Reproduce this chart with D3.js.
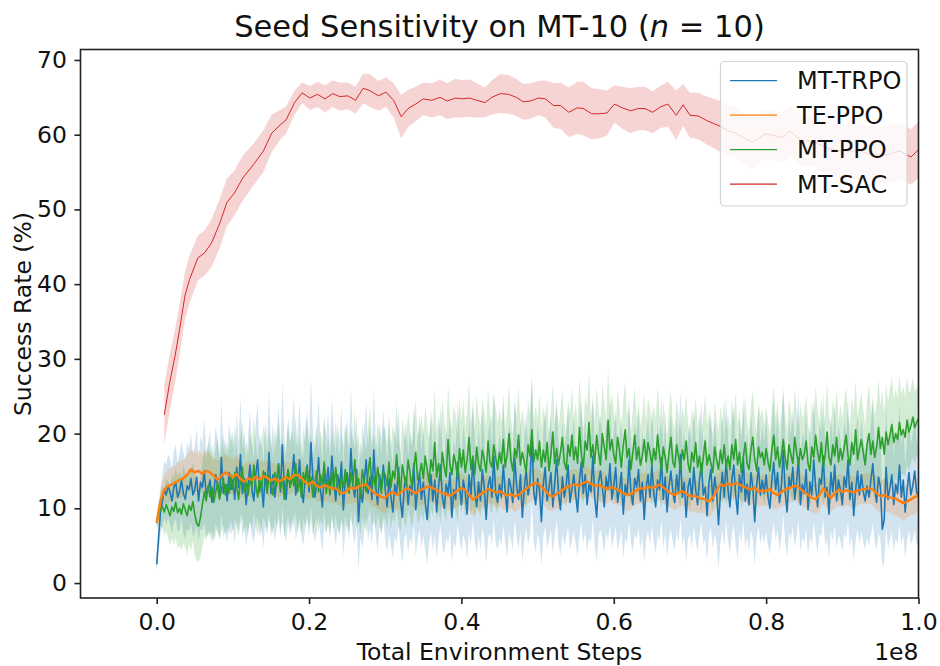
<!DOCTYPE html>
<html><head><meta charset="utf-8">
<script src="https://cdn.jsdelivr.net/npm/d3@7"></script>
<style>body{margin:0;background:#fff}</style>
</head><body><svg id="c" width="940" height="666"></svg>
<script>
// ---- data (x in units of 1e8 environment steps, y in % success) ----
const xTicks = [0.0, 0.2, 0.4, 0.6, 0.8, 1.0];
const yTicks = [0, 10, 20, 30, 40, 50, 60, 70];
const seriesNames = ["MT-TRPO", "TE-PPO", "MT-PPO", "MT-SAC"];
const seriesColors = ["#1f77b4", "#ff7f0e", "#2ca02c", "#d62728"];

// logging grids of the on-policy runs
const fineSteps = d3.range(401).map(i => i * 0.0025);   // MT-TRPO, MT-PPO
const gridSteps = d3.range(201).map(i => i * 0.005);    // TE-PPO

const trpoMean = [
2.5,6.0,9.5,11.0,12.5,11.8,13.0,12.2,11.0,12.8,13.5,11.5,12.2,13.8,12.0,11.2,13.0,12.5,14.0,11.8,
12.5,14.2,11.0,13.5,12.8,15.0,11.8,12.5,13.8,10.8,12.2,14.5,13.0,11.5,16.8,12.0,13.2,11.0,14.8,12.5,
13.8,11.2,15.5,12.8,17.2,12.0,14.0,10.5,13.2,15.8,12.5,11.0,14.5,16.5,12.2,13.5,10.2,14.8,12.8,17.5,
12.0,14.5,11.5,13.8,16.0,12.2,18.5,13.0,11.2,15.2,12.8,14.0,17.2,11.8,13.5,16.5,12.5,10.8,14.2,15.8,
12.2,18.8,14.0,11.5,13.2,16.8,12.5,10.2,14.8,13.0,15.5,12.0,17.0,13.8,11.0,14.5,12.8,16.2,9.8,13.5,
14.8,12.2,18.0,13.0,11.5,15.2,8.2,12.5,10.8,13.8,16.5,12.0,14.2,11.2,17.8,13.0,10.5,14.5,12.8,15.8,
12.5,10.2,14.0,11.5,9.5,13.2,12.0,15.5,11.0,8.8,12.8,14.2,10.5,13.0,11.8,16.0,9.8,12.5,14.8,11.2,
13.5,10.8,8.5,12.2,14.5,11.0,13.8,9.5,12.8,15.8,11.5,10.0,13.2,12.0,14.8,8.8,12.5,11.2,16.2,12.8,
10.5,13.8,12.2,9.2,14.5,11.8,16.5,12.5,10.2,13.5,11.0,15.2,12.8,8.5,13.0,14.2,11.5,17.0,12.0,10.8,
13.2,11.5,15.8,12.2,9.5,14.0,12.8,10.8,16.8,13.0,11.2,14.5,8.8,12.5,15.2,11.8,13.5,19.5,12.2,10.5,
14.0,12.5,8.2,13.2,15.5,11.0,12.8,14.8,10.2,13.5,16.5,12.0,9.8,14.2,11.5,13.0,15.8,10.8,12.5,14.5,
11.8,9.5,13.8,16.2,12.0,14.5,10.5,13.2,12.2,17.0,11.5,8.8,13.5,15.0,12.8,10.2,14.2,12.5,16.0,11.2,
13.0,15.5,10.8,12.5,14.8,9.2,13.2,11.8,16.5,12.2,10.5,14.0,12.8,15.2,11.0,13.5,8.5,12.8,14.5,11.5,
15.8,12.0,10.2,13.8,12.5,16.8,11.2,14.2,9.5,13.0,15.0,12.2,10.8,14.5,12.0,17.2,11.5,13.5,8.8,12.8,
14.0,11.2,15.5,12.5,10.5,13.8,16.0,11.8,12.8,9.0,13.5,15.2,11.0,14.2,12.2,7.8,12.0,14.8,11.5,16.5,
12.5,10.2,13.8,15.8,11.8,9.2,14.5,12.2,16.8,11.0,13.2,10.5,14.8,12.8,8.2,13.0,15.5,11.8,13.8,12.0,
14.5,11.5,10.0,13.8,16.2,12.5,14.8,10.8,13.0,17.8,12.2,9.5,14.2,12.8,15.5,11.2,13.5,16.8,10.5,13.2,
12.0,15.2,9.8,13.5,11.8,16.5,12.8,10.2,14.0,13.2,17.0,11.5,12.8,9.2,14.8,12.2,15.8,11.0,13.8,12.5,
10.5,14.2,12.8,16.5,11.2,13.5,9.0,12.5,15.0,11.8,14.5,12.2,11.0,13.0,11.5,13.8,16.0,12.5,10.8,14.2,
12.8,7.2,8.5,15.5,11.2,12.8,14.5,10.5,13.2,12.0,15.8,11.5,13.8,9.5,12.5,14.8,11.8,13.0,15.0,12.2,
11.5];
const trpoStd = [
1.0,2.0,3.0,3.5,3.8,4.0,4.2,4.5,4.3,4.8,5.0,4.6,5.2,5.0,5.5,5.2,5.8,5.5,6.0,5.6,
5.8,6.5,5.5,6.2,5.8,7.0,5.6,6.0,6.8,5.4,5.9,6.6,6.2,5.5,7.5,5.8,6.3,5.6,7.0,6.0,
6.5,5.8,7.2,6.0,7.8,5.9,6.6,5.5,6.3,7.4,6.1,5.6,6.9,7.6,6.0,6.4,5.5,7.0,6.2,8.0,
6.0,6.9,5.8,6.5,7.5,6.1,8.2,6.4,5.8,7.1,6.2,6.7,7.8,6.0,6.5,7.6,6.2,5.8,6.8,7.3,
6.2,8.4,6.7,6.0,6.5,7.7,6.3,6.0,7.0,6.5,7.3,6.1,7.8,6.6,6.0,6.9,6.4,7.5,6.2,6.6,
7.0,6.4,8.2,6.5,6.3,7.2,6.5,6.4,6.2,6.7,7.6,6.3,6.9,6.2,8.1,6.5,6.3,7.0,6.4,7.4,
6.8,6.0,7.4,6.5,6.2,7.0,6.6,7.8,6.3,6.1,6.9,7.5,6.4,7.0,6.6,8.0,6.2,6.8,7.6,6.5,
7.2,6.4,6.0,6.9,7.6,6.5,7.3,6.2,6.8,8.0,6.6,6.1,7.1,6.7,7.7,6.0,6.9,6.5,8.2,6.9,
6.3,7.3,6.8,6.0,7.6,6.6,8.2,6.9,6.2,7.2,6.5,7.8,6.9,5.9,7.0,7.5,6.5,8.4,6.8,6.3,
7.1,6.5,8.0,6.8,6.1,7.4,7.0,6.4,8.3,7.0,6.5,7.6,5.9,6.8,7.8,6.6,7.2,8.6,6.8,6.3,
7.4,6.8,5.8,7.0,7.9,6.4,6.9,7.6,6.2,7.2,8.2,6.7,6.1,7.5,6.5,7.0,8.0,6.4,6.8,7.6,
6.6,6.0,7.3,8.2,6.7,7.6,6.3,7.1,6.8,8.4,6.5,5.9,7.2,7.8,6.9,6.2,7.5,6.8,8.1,6.4,
7.0,7.9,6.4,6.8,7.7,5.9,7.1,6.6,8.2,6.8,6.3,7.4,6.9,7.8,6.4,7.2,5.8,6.9,7.6,6.5,
8.0,6.7,6.2,7.3,6.8,8.4,6.5,7.5,6.0,7.0,7.8,6.7,6.3,7.6,6.6,8.5,6.5,7.2,5.9,6.9,
7.4,6.5,7.9,6.8,6.3,7.2,8.1,6.6,6.9,6.0,7.1,7.8,6.4,7.5,6.8,5.8,6.6,7.7,6.5,8.2,
6.8,6.2,7.3,8.0,6.6,6.0,7.6,6.8,8.4,6.4,7.0,6.3,7.7,6.9,5.8,7.0,7.9,6.6,7.3,6.7,
7.6,6.5,6.2,7.3,8.2,6.8,7.7,6.4,7.0,8.6,6.8,6.0,7.5,6.9,7.9,6.4,7.2,8.4,6.3,7.0,
6.7,7.8,6.1,7.2,6.6,8.3,6.9,6.3,7.4,7.0,8.5,6.5,6.9,6.0,7.7,6.7,8.0,6.4,7.3,6.8,
6.4,7.5,6.9,8.2,6.5,7.2,6.0,6.8,7.8,6.6,7.6,6.8,6.5,7.0,6.5,7.4,8.1,6.9,6.4,7.5,
7.0,5.0,5.8,8.0,6.5,7.0,7.6,6.3,7.2,6.8,8.0,6.6,7.3,6.2,6.9,7.7,6.6,7.1,7.9,6.9,
6.8];

const tePpoMean = [
8.0,11.0,12.5,13.0,13.2,13.5,13.8,14.0,14.5,15.2,
14.8,15.0,14.6,15.0,14.8,14.3,13.8,14.4,14.8,14.5,
14.2,14.6,13.9,13.6,14.0,13.8,14.2,13.9,14.3,14.1,
13.7,14.0,13.6,13.8,14.2,13.9,14.4,14.5,14.0,13.5,
13.2,13.6,13.0,12.8,13.1,12.9,12.6,12.7,12.2,12.0,
12.4,12.8,12.6,12.9,13.1,13.2,12.6,12.1,11.8,11.5,
11.4,11.9,12.2,11.8,12.1,12.5,12.7,12.3,12.0,12.4,
12.6,12.9,12.8,12.6,12.3,12.0,11.9,11.7,12.0,12.4,
12.7,12.5,11.8,11.2,11.5,11.9,12.2,12.6,12.4,12.1,
12.3,12.0,11.7,11.9,11.6,11.8,12.2,12.6,13.0,13.3,
13.4,12.9,12.4,11.8,11.6,11.9,12.3,12.6,12.9,13.1,
13.2,13.0,13.4,13.6,13.3,13.0,13.1,12.9,12.6,12.8,
12.7,12.5,12.2,11.9,11.8,12.1,12.4,12.7,12.6,12.9,
12.7,12.9,13.2,12.8,12.4,12.0,11.8,12.1,12.3,12.0,
11.6,11.7,11.5,11.3,11.2,10.9,11.4,12.4,13.2,13.0,
13.3,13.1,13.4,13.2,12.9,12.7,12.5,12.8,12.2,12.4,
12.3,12.6,12.0,11.8,12.2,12.5,12.7,12.9,13.0,12.6,
12.2,11.8,11.4,11.2,11.8,12.7,12.0,11.4,12.0,12.5,
12.2,12.4,12.3,12.1,12.4,12.5,12.6,12.7,12.5,12.0,
11.6,11.8,11.5,11.4,11.3,11.0,10.7,10.9,11.2,11.5,
11.8];
const tePpoStd = [
1.0,1.8,2.0,2.2,2.3,2.4,2.5,2.5,2.6,2.7,
2.6,2.8,2.5,2.7,2.6,2.4,2.5,2.6,2.4,2.5,
2.3,2.5,2.4,2.2,2.3,2.4,2.2,2.3,2.1,2.2,
2.3,2.1,2.2,2.0,2.1,2.2,2.0,2.1,2.2,2.0,
2.1,2.0,2.1,1.9,2.0,2.1,1.9,2.0,1.8,2.0,
1.9,2.1,2.0,1.8,1.9,2.0,2.1,1.9,1.8,2.0,
2.1,1.9,2.0,2.2,1.9,1.8,2.0,2.1,1.9,2.0,
2.2,2.0,1.9,2.1,2.0,1.8,1.9,2.1,2.0,2.2,
2.0,1.9,2.1,2.3,2.0,1.9,2.1,2.0,1.8,2.0,
2.1,2.2,2.0,1.9,2.1,2.0,1.9,2.1,2.2,2.0,
1.9,2.0,2.2,2.1,1.9,2.0,2.1,1.9,2.0,2.2,
2.0,1.9,2.1,2.0,1.8,2.0,2.1,2.2,2.0,1.9,
2.1,2.0,1.9,2.1,2.2,2.0,1.9,2.0,2.1,2.0,
1.9,2.1,2.0,2.2,2.0,1.9,2.1,2.0,1.9,2.1,
2.0,2.2,2.1,1.9,2.0,2.1,2.0,2.2,2.1,2.0,
1.9,2.1,2.0,1.9,2.2,2.0,2.1,1.9,2.0,2.1,
2.0,2.2,2.1,1.9,2.0,2.1,2.0,1.9,2.1,2.2,
2.0,2.1,1.9,2.0,2.2,2.1,2.0,1.9,2.0,2.1,
2.2,2.0,2.1,2.2,2.0,1.9,2.1,2.0,2.2,2.3,
2.1,2.2,2.0,2.1,2.3,2.2,2.4,2.2,2.1,2.3,
2.2];

const ppoMean = [
8.5,9.2,9.8,10.2,9.5,10.5,9.8,9.0,10.2,9.6,10.8,9.4,10.0,9.2,10.6,9.8,9.0,10.4,9.7,10.9,
9.2,8.0,7.6,8.8,10.5,12.2,11.0,13.0,11.5,12.8,10.8,12.2,13.5,11.2,12.5,14.0,11.8,13.2,12.0,14.5,
12.5,14.8,13.0,11.2,13.8,15.5,12.2,13.5,11.8,14.2,12.8,15.8,13.2,11.5,14.0,12.5,15.0,13.8,12.0,14.5,
13.2,11.8,14.8,13.0,15.8,12.5,14.0,11.2,13.5,15.2,12.8,14.5,13.0,16.0,12.2,13.8,11.5,14.8,13.2,15.5,
12.8,14.2,11.5,13.5,15.0,12.2,14.5,13.2,16.2,12.0,13.8,11.8,14.8,12.5,15.5,13.0,11.8,14.2,12.8,15.2,
13.5,12.0,14.8,13.2,16.5,12.8,14.0,11.5,15.2,13.5,12.2,14.8,16.8,13.0,14.2,12.5,15.5,13.8,12.0,15.0,
14.5,13.0,16.2,12.8,15.0,14.0,17.2,13.5,12.2,15.8,14.2,13.0,16.5,14.8,12.8,15.5,17.5,13.8,14.5,16.0,
14.0,17.0,15.2,13.5,16.5,15.0,18.8,14.2,16.0,13.8,17.5,15.5,14.2,19.2,15.8,14.5,17.2,16.0,14.0,18.0,
15.5,17.8,14.8,16.5,19.5,15.2,17.0,14.5,18.2,16.0,15.0,17.8,16.5,14.8,19.0,16.2,15.5,18.5,16.8,15.2,
17.5,16.0,19.2,15.5,17.2,20.0,16.5,15.0,18.0,16.8,19.8,15.8,17.5,16.2,14.8,18.5,17.0,20.5,16.2,17.8,
16.5,19.0,15.5,17.8,16.2,18.8,15.0,17.2,20.2,16.0,18.0,15.8,17.5,19.5,16.2,15.2,18.5,17.0,19.8,16.5,
18.2,16.0,20.8,17.2,15.5,19.0,17.8,21.5,16.8,18.5,16.0,19.8,17.5,15.8,20.0,18.2,16.5,21.8,17.8,19.2,
17.2,16.0,19.5,17.8,15.5,18.5,20.5,16.8,18.0,15.2,17.5,19.8,16.5,18.2,15.8,17.0,19.2,16.2,18.8,17.5,
15.8,18.0,16.5,19.8,17.2,15.0,18.2,16.8,14.8,17.5,19.5,16.2,15.5,18.5,17.0,15.2,17.8,16.5,19.0,16.0,
14.8,17.5,16.2,18.8,15.5,17.0,14.5,16.8,19.0,15.8,17.2,16.0,14.8,18.2,16.5,15.2,17.8,16.0,18.5,15.5,
17.0,15.2,18.5,16.5,19.2,15.8,17.5,14.8,16.8,18.8,16.0,15.2,17.8,19.5,16.5,15.0,18.2,16.8,17.5,15.8,
18.0,16.2,15.0,17.8,19.8,16.5,18.2,15.5,17.0,19.2,16.8,15.2,18.5,17.2,16.0,19.5,17.5,15.8,18.0,16.5,
17.2,19.0,16.0,15.0,18.2,16.8,19.8,17.5,16.2,18.8,15.5,17.2,20.2,16.8,15.8,18.5,17.0,19.5,16.2,18.0,
16.5,18.2,19.8,17.0,15.8,18.8,17.2,20.5,16.5,18.0,19.2,17.5,15.8,18.5,20.0,17.2,19.0,16.8,18.2,20.8,
18.0,19.5,17.2,20.2,18.5,19.8,21.2,18.8,20.0,19.2,21.5,19.8,20.5,19.5,21.8,20.2,21.0,22.2,20.8,21.5,
22.0];
const ppoStd = [
1.0,1.5,2.2,2.8,3.2,3.5,3.8,4.0,4.2,4.5,4.6,4.8,5.0,4.8,5.2,5.0,5.3,5.1,5.4,5.2,
5.5,5.0,4.8,5.3,5.6,5.9,5.4,6.0,5.5,5.8,5.2,5.7,6.1,5.4,5.6,6.2,5.3,5.8,5.5,6.0,
5.6,6.1,5.4,5.0,5.8,6.3,5.5,5.7,5.2,6.0,5.6,6.4,5.7,5.1,5.9,5.5,6.2,5.8,5.3,6.0,
5.7,5.2,6.0,5.6,6.4,5.4,5.9,5.0,5.7,6.2,5.5,6.0,5.6,6.5,5.3,5.8,5.1,6.1,5.7,6.3,
5.5,5.9,5.1,5.7,6.2,5.4,6.0,5.6,6.6,5.3,5.8,5.2,6.1,5.5,6.3,5.7,5.2,5.9,5.6,6.2,
5.8,5.3,6.1,5.7,6.7,5.5,5.9,5.1,6.2,5.8,5.4,6.0,6.8,5.6,5.9,5.3,6.3,5.8,5.2,6.1,
6.0,5.6,6.5,5.5,6.2,5.9,6.9,5.8,5.4,6.4,6.0,5.6,6.6,6.1,5.5,6.3,7.0,5.9,6.0,6.5,
5.9,6.8,6.3,5.7,6.6,6.1,7.2,5.9,6.4,5.8,6.9,6.3,5.9,7.3,6.4,6.0,6.8,6.4,5.8,7.0,
6.2,6.9,6.0,6.5,7.3,6.1,6.7,5.9,7.0,6.4,6.1,6.9,6.5,6.0,7.2,6.4,6.2,7.0,6.6,6.1,
5.8,5.3,6.2,5.1,5.7,6.5,5.5,5.0,5.9,5.6,6.4,5.2,5.8,5.4,4.9,6.0,5.6,6.6,5.4,5.9,
5.5,6.2,5.1,5.9,5.4,6.1,5.0,5.7,6.5,5.3,5.9,5.2,5.8,6.3,5.4,5.0,6.0,5.6,6.4,5.5,
5.9,5.3,6.6,5.7,5.1,6.1,5.8,6.8,5.5,6.0,5.3,6.4,5.8,5.2,6.5,5.9,5.4,6.9,5.8,6.2,
5.7,5.3,6.3,5.8,5.1,6.0,6.6,5.5,5.9,5.0,5.8,6.4,5.4,6.0,5.2,5.6,6.2,5.3,6.1,5.8,
5.3,6.0,5.5,6.4,5.8,5.0,6.0,5.6,4.9,5.8,6.3,5.4,5.2,6.1,5.7,5.0,5.9,5.5,6.2,5.3,
5.0,5.9,5.4,6.2,5.2,5.7,4.9,5.6,6.2,5.3,5.8,5.4,5.0,6.0,5.5,5.1,5.9,5.4,6.1,5.2,
5.7,5.1,6.1,5.5,6.3,5.3,5.8,5.0,5.6,6.2,5.4,5.1,5.9,6.4,5.5,5.0,6.0,5.6,5.8,5.3,
5.9,5.4,5.0,5.8,6.5,5.5,6.0,5.2,5.7,6.3,5.6,5.1,6.1,5.7,5.3,6.4,5.8,5.2,6.0,5.5,
5.7,6.2,5.3,5.0,6.0,5.6,6.5,5.8,5.4,6.2,5.1,5.7,6.6,5.6,5.2,6.1,5.7,6.4,5.4,5.9,
5.5,6.0,6.5,5.6,5.2,6.2,5.7,6.6,5.5,5.9,6.3,5.7,5.2,6.0,6.5,5.6,6.1,5.5,5.9,6.4,
5.8,6.2,5.5,6.4,5.8,6.1,6.5,5.7,6.0,5.6,6.2,5.5,5.8,5.3,5.9,5.2,5.0,5.4,4.8,4.6,
4.5];

const sacSteps = [
0.010,0.017,0.024,0.030,0.037,0.043,0.054,0.063,0.072,0.083,
0.092,0.102,0.113,0.127,0.140,0.151,0.162,0.170,0.181,0.191,
0.201,0.211,0.221,0.231,0.240,0.251,0.261,0.271,0.280,0.291,
0.301,0.311,0.321,0.330,0.340,0.350,0.361,0.372,0.381,0.392,
0.401,0.411,0.420,0.431,0.440,0.451,0.462,0.472,0.481,0.490,
0.501,0.510,0.521,0.530,0.541,0.552,0.560,0.571,0.581,0.591,
0.601,0.611,0.622,0.632,0.641,0.651,0.661,0.671,0.682,0.691,
0.700,0.711,0.722,0.731,0.740,0.749,0.760,0.770,0.781,0.790,
0.799,0.809,0.821,0.831,0.845,0.853,0.862,0.872,0.884,0.894,
0.906,0.915,0.924,0.933,0.941,0.950,0.959,0.967,0.976,0.990,
1.000];
const sacMean = [
22.5,26.8,30.3,33.9,38.4,40.6,43.5,44.2,45.5,48.2,
50.9,52.2,54.2,56.0,57.8,60.2,61.3,62.0,64.3,65.6,
64.9,65.4,64.8,65.5,65.1,65.2,64.6,66.2,65.9,65.2,
65.7,64.6,62.4,63.5,64.1,64.8,64.6,65.0,64.5,64.9,
64.8,64.9,64.6,64.3,65.0,65.5,65.4,65.0,64.4,64.5,
64.9,64.8,63.9,63.9,63.0,63.6,63.5,62.8,62.8,62.9,
64.1,63.6,63.2,63.5,63.5,63.0,63.7,64.1,62.6,64.0,
62.6,62.5,61.9,61.5,61.1,60.6,60.2,59.6,59.0,59.5,
60.1,59.9,59.6,60.5,59.3,59.2,59.1,58.6,58.1,57.9,
57.8,57.8,57.8,57.5,57.3,57.3,57.3,57.6,57.8,57.0,
58.0];
const sacStd = [
4.0,3.8,3.6,3.4,3.2,3.2,3.0,3.0,3.2,3.3,
3.2,3.0,3.0,2.8,2.8,2.5,2.0,1.8,1.6,1.4,
1.6,1.7,1.8,1.8,1.9,1.8,1.8,2.0,2.2,2.0,
2.0,2.3,2.9,2.5,2.3,2.2,2.3,2.4,2.4,2.6,
2.5,2.5,2.3,2.0,2.3,2.6,2.6,2.5,2.4,2.4,
2.3,2.5,3.0,3.1,3.3,3.5,3.6,3.4,3.3,3.0,
2.5,2.8,3.0,2.9,2.9,2.8,2.8,3.0,3.3,2.8,
3.0,3.1,3.2,3.3,3.4,3.4,3.4,3.4,3.5,3.4,
3.3,3.3,3.4,3.3,3.4,3.4,3.4,3.5,3.5,3.6,
3.6,3.6,3.7,3.7,3.8,3.8,3.8,3.8,3.8,3.7,
3.8];

// ---- layout ----
const frame = {l: 80.5, r: 918.5, t: 49.5, b: 598};
const FONT = "DejaVu Sans, sans-serif";
const svg = d3.select("#c");
const x = d3.scaleLinear().domain([-0.1, 1.0]).range([frame.l, frame.r]);
const y = d3.scaleLinear().domain([-2, 71.4]).range([frame.b, frame.t]);

svg.append("defs").append("clipPath").attr("id", "clip")
  .append("rect").attr("x", frame.l).attr("y", frame.t)
  .attr("width", frame.r - frame.l).attr("height", frame.b - frame.t);

const series = [
  {steps: fineSteps, mean: trpoMean, std: trpoStd, color: seriesColors[0], w: 1.6},
  {steps: gridSteps, mean: tePpoMean, std: tePpoStd, color: seriesColors[1], w: 2.4},
  {steps: fineSteps, mean: ppoMean, std: ppoStd, color: seriesColors[2], w: 1.6},
  {steps: sacSteps, mean: sacMean, std: sacStd, color: seriesColors[3], w: 1.0}
].map(s => Object.assign(s, {pts: s.steps.map((st, i) => ({s: st, m: s.mean[i], sd: s.std[i]}))}));

const plot = svg.append("g").attr("clip-path", "url(#clip)");
const area = d3.area().x(d => x(d.s)).y0(d => y(d.m - d.sd)).y1(d => y(d.m + d.sd));
const line = d3.line().x(d => x(d.s)).y(d => y(d.m));

series.forEach(s => {
  plot.append("path").attr("d", area(s.pts)).attr("fill", s.color).attr("fill-opacity", 0.2).attr("stroke", "none");
});
// line order: TRPO, PPO, TE-PPO, SAC
[0, 2, 1, 3].forEach(k => {
  const s = series[k];
  plot.append("path").attr("d", line(s.pts)).attr("fill", "none")
    .attr("stroke", s.color).attr("stroke-width", s.w).attr("stroke-linejoin", "round");
});

// ---- axes ----
const xAxis = svg.append("g").attr("transform", `translate(0,${frame.b})`)
  .call(d3.axisBottom(x).tickValues(xTicks).tickFormat(d3.format(".1f")).tickSize(6).tickPadding(9.3));
const yAxis = svg.append("g").attr("transform", `translate(${frame.l},0)`)
  .call(d3.axisLeft(y).tickValues(yTicks).tickFormat(d3.format("d")).tickSize(6).tickPadding(7.5));
[xAxis, yAxis].forEach(a => {
  a.select(".domain").remove();
  a.attr("font-family", FONT).attr("font-size", 23.5);
  a.selectAll(".tick line").attr("stroke", "#222").attr("stroke-width", 1.6);
  a.selectAll(".tick text").attr("fill", "#111");
});

svg.append("rect").attr("x", frame.l).attr("y", frame.t)
  .attr("width", frame.r - frame.l).attr("height", frame.b - frame.t)
  .attr("fill", "none").attr("stroke", "#222").attr("stroke-width", 1.6);

// ---- texts ----
const title = svg.append("text").attr("x", (frame.l + frame.r) / 2).attr("y", 37)
  .attr("text-anchor", "middle").attr("font-family", FONT).attr("font-size", 30.5).attr("fill", "#111");
title.append("tspan").text("Seed Sensitivity on MT-10 (");
title.append("tspan").attr("font-style", "italic").text("n");
title.append("tspan").text(" = 10)");

svg.append("text").attr("x", (frame.l + frame.r) / 2).attr("y", 660)
  .attr("text-anchor", "middle").attr("font-family", FONT).attr("font-size", 23.5).attr("fill", "#111")
  .text("Total Environment Steps");
svg.append("text").attr("x", frame.r).attr("y", 660)
  .attr("text-anchor", "end").attr("font-family", FONT).attr("font-size", 23.5).attr("fill", "#111")
  .text("1e8");
svg.append("text").attr("transform", `translate(31,314) rotate(-90)`)
  .attr("text-anchor", "middle").attr("font-family", FONT).attr("font-size", 23.5).attr("fill", "#111")
  .text("Success Rate (%)");

// ---- legend ----
const lg = svg.append("g");
lg.append("rect").attr("x", 720.5).attr("y", 61.5).attr("width", 186.5).attr("height", 144.5)
  .attr("rx", 4).attr("fill", "#fff").attr("fill-opacity", 0.8).attr("stroke", "#d4d4d4").attr("stroke-width", 1.2);
seriesNames.forEach((name, i) => {
  const cy = 80.7 + i * 34.5;
  lg.append("line").attr("x1", 730).attr("x2", 777).attr("y1", cy).attr("y2", cy)
    .attr("stroke", seriesColors[i]).attr("stroke-width", 1.2);
  lg.append("text").attr("x", 797).attr("y", cy + 8.5).attr("font-family", FONT)
    .attr("font-size", 24).attr("fill", "#111").text(name);
});
</script></body></html>
